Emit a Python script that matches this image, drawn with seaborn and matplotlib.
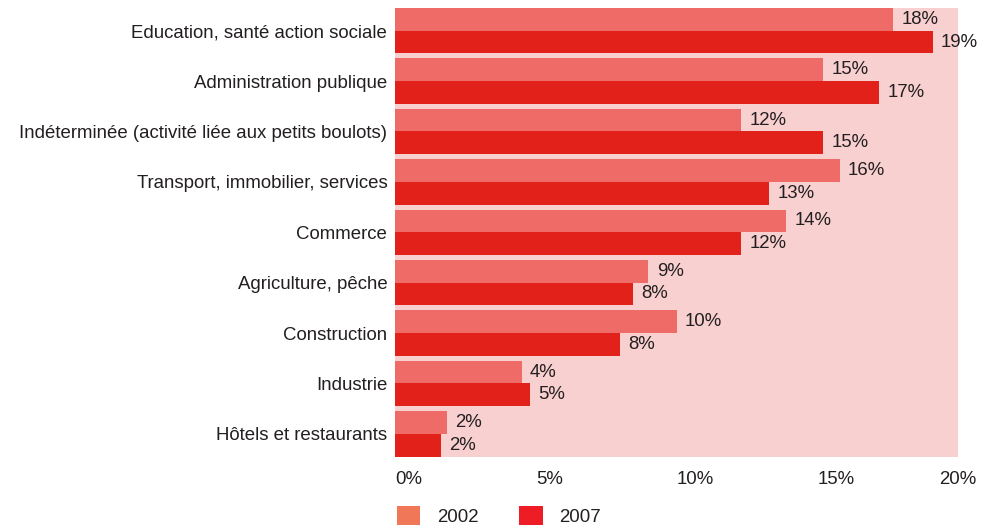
import matplotlib
matplotlib.use("Agg")
import matplotlib.pyplot as plt
import seaborn as sns
import pandas as pd
from matplotlib.patches import Patch

categories = [
    "Education, santé action sociale",
    "Administration publique",
    "Indéterminée (activité liée aux petits boulots)",
    "Transport, immobilier, services",
    "Commerce",
    "Agriculture, pêche",
    "Construction",
    "Industrie",
    "Hôtels et restaurants",
]
values_2002 = [17.7, 15.2, 12.3, 15.8, 13.9, 9.0, 10.0, 4.5, 1.85]
values_2007 = [19.1, 17.2, 15.2, 13.3, 12.3, 8.45, 8.0, 4.8, 1.63]
labels_2002 = ["18%", "15%", "12%", "16%", "14%", "9%", "10%", "4%", "2%"]
labels_2007 = ["19%", "17%", "15%", "13%", "12%", "8%", "8%", "5%", "2%"]
years = ["2002", "2007"]
xticks = [0, 5, 10, 15, 20]
xticklabels = ["0%", "5%", "10%", "15%", "20%"]

bar_colors = {"2002": "#EE6B67", "2007": "#E2211A"}
legend_colors = {"2002": "#F07858", "2007": "#EE1C25"}
text_color = "#231F20"
FS = 13.4

sns.set_theme(style="white")
plt.rcParams["font.family"] = ["Liberation Sans", "DejaVu Sans"]

df = pd.DataFrame({
    "cat": categories * 2,
    "value": values_2002 + values_2007,
    "year": ["2002"] * len(categories) + ["2007"] * len(categories),
})

fig = plt.figure(figsize=(9.98, 5.27), dpi=100)
ax = fig.add_axes([395 / 998, 1 - 456.5 / 527, (958 - 395) / 998, (456.5 - 8) / 527])
ax.set_facecolor("#F9D0D0")

sns.barplot(data=df, x="value", y="cat", hue="year", orient="h",
            palette=bar_colors, width=0.9, saturation=1, legend=False,
            ax=ax, linewidth=0)

for cont, labs in zip(ax.containers, [labels_2002, labels_2007]):
    ax.bar_label(cont, labels=labs, padding=6, fontsize=FS, color=text_color)

ax.set_xlim(0, 20)
ax.set_ylim(8.45, -0.45)
ax.set_xlabel("")
ax.set_ylabel("")
for s in ax.spines.values():
    s.set_visible(False)
ax.tick_params(axis="both", length=0, labelsize=FS, colors=text_color)
ax.tick_params(axis="y", pad=5.5)
ax.tick_params(axis="x", pad=10.5)
ax.set_xticks(xticks)
ax.set_xticklabels(xticklabels)
for i, t in enumerate(ax.get_xticklabels()):
    t.set_ha("left" if i < len(xticks) - 1 else "center")

handles = [Patch(facecolor=legend_colors[y], edgecolor="none", label=y) for y in years]
fig.legend(handles=handles, loc="center left", bbox_to_anchor=(397 / 998, 1 - 516 / 527),
           ncol=2, frameon=False, fontsize=FS, handlelength=1.25, handleheight=1.2,
           handletextpad=0.9, columnspacing=2.2, borderpad=0, borderaxespad=0,
           labelcolor=text_color)

fig.savefig("out.png", dpi=100)
